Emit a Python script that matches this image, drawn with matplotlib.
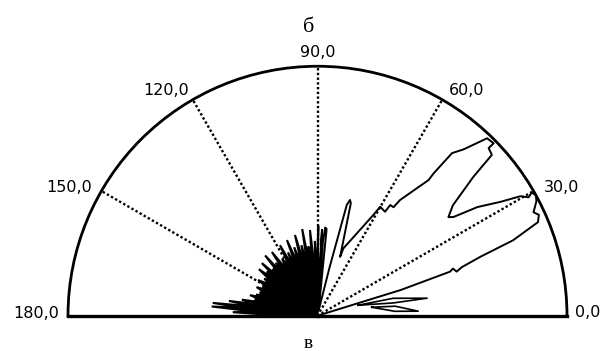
import numpy as np
import matplotlib.pyplot as plt

# main lobe outline, 0..88 deg (angle in degrees, normalised radius)
main_deg = [0, 17.2, 18.4, 19.2, 17.6, 18.6, 19.9, 21.1, 23.0, 24.5, 25.6,
            27.6, 28.9, 29.9, 29.3, 30.5, 31.9, 34.2, 36.0, 37.0, 39.2,
            41.7, 42.7, 44.4, 44.4, 46.3, 48.7, 50.4, 50.8, 50.7, 54.5,
            55.0, 56.7, 57.0, 60.1, 61.0, 69.0, 69.0, 73.5, 74.3, 75.2,
            76.0, 78.0, 84.0, 85.0, 85.8, 86.3, 87.0, 87.6, 88.0]
main_r = [0, 0.35, 0.56, 0.575, 0.585, 0.61, 0.694, 0.84, 0.96, 0.975, 0.96,
          0.99, 1.0, 0.99, 0.97, 0.944, 0.864, 0.775, 0.673, 0.657, 0.70,
          0.836, 0.951, 0.96, 0.988, 0.984, 0.888, 0.846, 0.737, 0.703, 0.57,
          0.531, 0.531, 0.497, 0.504, 0.462, 0.289, 0.253, 0.47, 0.482, 0.46,
          0.2, 0.02, 0.35, 0.355, 0.3, 0.05, 0.345, 0.1, 0.05]

# two thin side lobes near the 0 deg baseline
sliver_a_deg = [14.5, 13.0, 9.1, 9.6, 14.5]
sliver_a_r = [0.168, 0.311, 0.445, 0.307, 0.168]
sliver_b_deg = [8.9, 7.0, 2.6, 3.3, 8.9]
sliver_b_r = [0.22, 0.314, 0.404, 0.31, 0.22]

# dense side lobes, 88..180 deg
left_deg = [88.0, 89.5, 90.8, 92.0, 93.3, 95.0, 96.3, 97.5, 98.8, 100.0,
            101.4, 102.8, 104.2, 105.6, 107.2, 108.8, 110.4, 112.0, 113.5,
            115.0, 116.5, 118.0, 119.9, 121.8, 123.7, 125.6, 127.0, 128.3,
            129.7, 131.0, 132.4, 133.8, 135.2, 136.6, 137.8, 139.0, 140.3,
            141.5, 143.3, 145.0, 147.0, 149.0, 150.5, 152.0, 153.4, 154.8,
            156.4, 158.0, 159.5, 161.0, 162.0, 163.0, 164.3, 165.5, 166.8,
            168.0, 169.3, 170.5, 171.8, 173.0, 174.0, 175.0, 176.3, 177.6,
            178.8, 180.0]
left_r = [0.05, 0.36, 0.17, 0.30, 0.18, 0.345, 0.19, 0.28, 0.20, 0.353,
          0.20, 0.29, 0.21, 0.336, 0.21, 0.29, 0.21, 0.327, 0.21,
          0.28, 0.21, 0.32, 0.22, 0.27, 0.22, 0.314, 0.22, 0.27,
          0.22, 0.32, 0.23, 0.26, 0.23, 0.307, 0.23, 0.27, 0.23,
          0.30, 0.23, 0.26, 0.23, 0.278, 0.23, 0.25, 0.23, 0.27,
          0.23, 0.25, 0.23, 0.26, 0.24, 0.283, 0.24, 0.26, 0.24,
          0.31, 0.25, 0.36, 0.26, 0.423, 0.30, 0.426, 0.25, 0.34,
          0.20, 0.0]

grid_deg = [30, 60, 90, 120, 150]
label_deg = [0, 30, 60, 90, 120, 150, 180]
label_txt = ['0,0', '30,0', '60,0', '90,0', '120,0', '150,0', '180,0']

fig = plt.figure(figsize=(6.01, 3.51), dpi=100)
# the half disc is fitted into a square box: centre (317.5, 315.5) px, radius 249.5 px
ax = fig.add_axes([68 / 601, (351 - 440.5) / 351, 499 / 601, 499 / 351], projection='polar')
ax.set_thetamin(0)
ax.set_thetamax(180)
ax.set_ylim(0, 1)
ax.set_yticks([])
ax.set_xticks(np.deg2rad(grid_deg))
ax.set_xticklabels([])
ax.tick_params(length=0)
ax.grid(True, linestyle=(0, (1, 1)), color='black', linewidth=1.7)
ax.spines['polar'].set_linewidth(2.0)
ax.spines['start'].set_linewidth(2.4)
ax.spines['end'].set_linewidth(2.4)
ax.spines['inner'].set_visible(False)

ax.plot(np.deg2rad(main_deg), main_r, color='black', lw=1.4, zorder=3, clip_on=False)
ax.plot(np.deg2rad(sliver_a_deg), sliver_a_r, color='black', lw=1.2, zorder=3)
ax.plot(np.deg2rad(sliver_b_deg), sliver_b_r, color='black', lw=1.2, zorder=3)
ax.fill(np.deg2rad(left_deg), left_r, facecolor='black', edgecolor='black', lw=1.5, zorder=3)

# label offsets in pixels from the rim point: (dx, dy, ha)
offs = [(8, -1.5, 'left'), (10, -1, 'left'), (7, 5, 'left'), (0, 9.5, 'center'),
        (-4, 5, 'right'), (-9, -1, 'right'), (-9, -2.5, 'right')]
for a, t, (dx, dy, ha) in zip(label_deg, label_txt, offs):
    ax.annotate(t, xy=(np.deg2rad(a), 1), xytext=(dx * 0.72, dy * 0.72),
                textcoords='offset points', ha=ha, va='baseline',
                fontsize=11.5, family='DejaVu Sans', annotation_clip=False)

fig.text(309 / 601, 1 - 32 / 351, 'б', ha='center', va='baseline',
         family='Liberation Serif', fontsize=16)
fig.text(308 / 601, 3 / 351, 'в', ha='center', va='baseline',
         family='Liberation Serif', fontsize=14)

fig.savefig('out.png', dpi=100)
